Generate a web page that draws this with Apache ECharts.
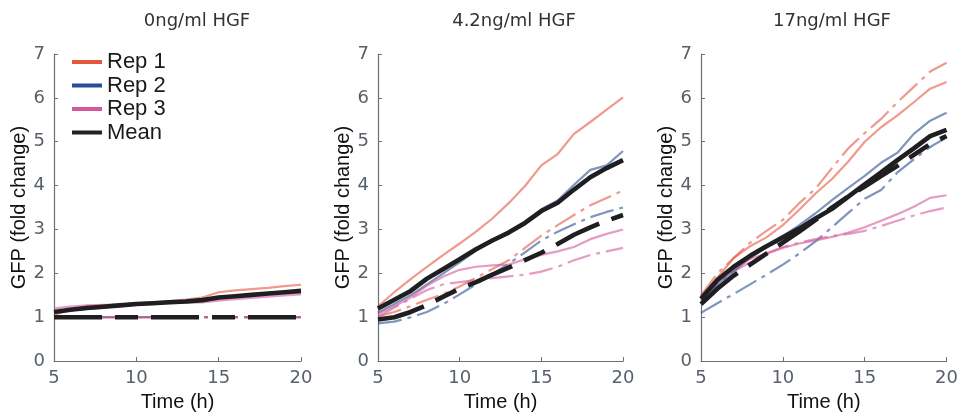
<!DOCTYPE html>
<html>
<head>
<meta charset="utf-8">
<script src="https://cdn.jsdelivr.net/npm/echarts@6/dist/echarts.min.js"></script>
<style>
  html, body { margin: 0; padding: 0; background: #ffffff; }
  #chart { width: 961px; height: 417px; }
</style>
</head>
<body>
<div id="chart"></div>
<script>
// Sampling times (h)
const hours = [5, 6, 7, 8, 9, 10, 11, 12, 13, 14, 15, 16, 17, 18, 19, 20];

const panelTitles = ['0ng/ml HGF', '4.2ng/ml HGF', '17ng/ml HGF'];
const lineNames = ['Rep 1', 'Rep 2', 'Rep 3', 'Mean'];

// 0 ng/ml HGF — solid traces
const rep1_0 = [1.05, 1.17, 1.25, 1.27, 1.29, 1.31, 1.34, 1.37, 1.40, 1.45, 1.57, 1.61, 1.64, 1.67, 1.71, 1.74];
const rep2_0 = [1.12, 1.16, 1.19, 1.22, 1.25, 1.28, 1.31, 1.33, 1.35, 1.37, 1.43, 1.46, 1.49, 1.52, 1.55, 1.57];
const rep3_0 = [1.20, 1.24, 1.27, 1.28, 1.29, 1.30, 1.31, 1.32, 1.33, 1.34, 1.38, 1.41, 1.44, 1.47, 1.50, 1.52];
const mean_0 = [1.12, 1.17, 1.21, 1.24, 1.27, 1.30, 1.32, 1.34, 1.36, 1.39, 1.45, 1.48, 1.51, 1.54, 1.57, 1.60];
// 0 ng/ml HGF — dashed traces
const rep1_0d = [1, 1, 1, 1, 1, 1, 1, 1, 1, 1, 1, 1, 1, 1, 1, 1];
const rep2_0d = [1, 1, 1, 1, 1, 1, 1, 1, 1, 1, 1, 1, 1, 1, 1, 1];
const rep3_0d = [1, 1, 1, 1, 1, 1, 1, 1, 1, 1, 1, 1, 1, 1, 1, 1];
const mean_0d = [1, 1, 1, 1, 1, 1, 1, 1, 1, 1, 1, 1, 1, 1, 1, 1];

// 4.2 ng/ml HGF — solid traces
const rep1_4 = [1.25, 1.57, 1.87, 2.15, 2.42, 2.68, 2.95, 3.25, 3.60, 3.99, 4.46, 4.72, 5.18, 5.45, 5.73, 6.01];
const rep2_4 = [1.10, 1.30, 1.50, 1.75, 2.00, 2.25, 2.52, 2.75, 2.95, 3.18, 3.46, 3.66, 4.02, 4.36, 4.46, 4.79];
const rep3_4 = [1.07, 1.25, 1.45, 1.72, 1.93, 2.08, 2.15, 2.18, 2.20, 2.32, 2.42, 2.50, 2.60, 2.78, 2.90, 3.00];
const mean_4 = [1.20, 1.40, 1.60, 1.88, 2.10, 2.32, 2.55, 2.75, 2.93, 3.15, 3.42, 3.61, 3.91, 4.19, 4.40, 4.58];
// 4.2 ng/ml HGF — dashed traces
const rep1_4d = [1.02, 1.12, 1.25, 1.40, 1.53, 1.70, 1.90, 2.10, 2.30, 2.58, 2.86, 3.10, 3.33, 3.55, 3.72, 3.89];
const rep2_4d = [0.86, 0.90, 1.00, 1.12, 1.30, 1.52, 1.75, 1.98, 2.22, 2.48, 2.75, 2.95, 3.12, 3.28, 3.40, 3.50];
const rep3_4d = [1.00, 1.22, 1.42, 1.62, 1.75, 1.80, 1.85, 1.89, 1.93, 1.97, 2.04, 2.15, 2.30, 2.42, 2.50, 2.58];
const mean_4d = [0.95, 1.00, 1.12, 1.28, 1.47, 1.65, 1.80, 1.97, 2.13, 2.30, 2.47, 2.67, 2.88, 3.05, 3.20, 3.33];

// 17 ng/ml HGF — solid traces
const rep1_17 = [1.47, 1.90, 2.35, 2.62, 2.82, 3.10, 3.45, 3.82, 4.15, 4.55, 5.00, 5.33, 5.60, 5.90, 6.21, 6.36];
const rep2_17 = [1.40, 1.75, 2.05, 2.35, 2.60, 2.85, 3.10, 3.37, 3.67, 3.95, 4.22, 4.52, 4.75, 5.18, 5.48, 5.66];
const rep3_17 = [1.45, 1.80, 2.10, 2.33, 2.45, 2.58, 2.68, 2.75, 2.83, 2.93, 3.05, 3.20, 3.35, 3.52, 3.72, 3.78];
const mean_17 = [1.42, 1.85, 2.15, 2.40, 2.62, 2.82, 3.02, 3.25, 3.47, 3.75, 4.03, 4.30, 4.58, 4.85, 5.13, 5.27];
// 17 ng/ml HGF — dashed traces
const rep1_17d = [1.50, 2.00, 2.35, 2.70, 2.97, 3.22, 3.60, 3.93, 4.40, 4.85, 5.20, 5.52, 5.90, 6.25, 6.60, 6.80];
const rep2_17d = [1.10, 1.32, 1.53, 1.75, 1.97, 2.20, 2.45, 2.73, 3.05, 3.38, 3.70, 3.90, 4.30, 4.60, 4.88, 5.10];
const rep3_17d = [1.40, 1.75, 2.05, 2.25, 2.45, 2.60, 2.70, 2.78, 2.85, 2.90, 2.97, 3.08, 3.20, 3.32, 3.42, 3.50];
const mean_17d = [1.30, 1.65, 1.95, 2.20, 2.45, 2.70, 2.95, 3.22, 3.50, 3.75, 3.98, 4.22, 4.45, 4.70, 4.95, 5.13];

const solidSets = [
  [rep1_0, rep2_0, rep3_0, mean_0],
  [rep1_4, rep2_4, rep3_4, mean_4],
  [rep1_17, rep2_17, rep3_17, mean_17]
];
const dashedSets = [
  [rep1_0d, rep2_0d, rep3_0d, mean_0d],
  [rep1_4d, rep2_4d, rep3_4d, mean_4d],
  [rep1_17d, rep2_17d, rep3_17d, mean_17d]
];

// Styling
const keyColors = ['#e4573f', '#2b4c96', '#d3589a', '#222226'];
const traceColors = ['rgba(228,87,63,0.6)', 'rgba(43,76,150,0.6)', 'rgba(211,88,154,0.6)', '#1f1f22'];
const traceWidths = [2.2, 2.2, 2.2, 4.6];
const repDash = [24, 6, 4, 6];
const meanDash = [48, 13, 23, 13];

const gridBoxes = [
  { left: 54, top: 54, width: 247, height: 312 },
  { left: 378, top: 54, width: 245, height: 312 },
  { left: 701, top: 54, width: 246, height: 312 }
];
const titleCenters = [197, 514, 832];

const tickFont = 'DejaVu Sans';
const textFont = '"Liberation Sans", Arial, Helvetica, sans-serif';
const axisGrey = '#6c7178';
const tickGrey = '#58606a';

const toPairs = arr => arr.map((v, i) => [hours[i], v]);

const grids = [], xAxes = [], yAxes = [], series = [], graphics = [];

gridBoxes.forEach((box, p) => {
  grids.push(Object.assign({ containLabel: false }, box));

  xAxes.push({
    type: 'value', gridIndex: p, min: 5, max: 20, interval: 5,
    name: 'Time (h)', nameLocation: 'middle', nameGap: 27,
    nameTextStyle: { color: '#111', fontSize: 20, fontFamily: textFont },
    axisLine: { show: true, lineStyle: { color: axisGrey, width: 1.2 } },
    axisTick: { show: true, inside: true, length: 4, lineStyle: { color: axisGrey } },
    axisLabel: { color: tickGrey, fontSize: 18, fontFamily: tickFont, margin: 8 },
    splitLine: { show: false }
  });

  yAxes.push({
    type: 'value', gridIndex: p, min: 0, max: 7, interval: 1,
    name: 'GFP (fold change)', nameLocation: 'middle', nameGap: 22,
    nameTextStyle: { color: '#111', fontSize: 20, fontFamily: textFont },
    axisLine: { show: true, lineStyle: { color: axisGrey, width: 1.2 } },
    axisTick: { show: true, inside: true, length: 4, lineStyle: { color: axisGrey } },
    axisLabel: { color: tickGrey, fontSize: 18, fontFamily: tickFont, margin: 9 },
    splitLine: { show: false }
  });

  graphics.push({
    type: 'text', x: titleCenters[p], y: 21,
    style: {
      text: panelTitles[p], fill: '#333', fontSize: 18, fontFamily: tickFont,
      align: 'center', verticalAlign: 'middle'
    }
  });

  const addLine = (k, arr, dashed) => {
    series.push({
      type: 'line',
      name: dashed ? lineNames[k] + ' dashed' : lineNames[k],
      xAxisIndex: p, yAxisIndex: p,
      data: toPairs(arr),
      showSymbol: false, symbol: 'none', silent: true, animation: false,
      itemStyle: { color: keyColors[k] },
      lineStyle: {
        color: traceColors[k], width: traceWidths[k],
        type: dashed ? (k === 3 ? meanDash : repDash) : 'solid'
      },
      z: k === 3 ? 5 : 2
    });
  };

  // replicate traces first, mean traces on top
  for (let k = 0; k < 3; k++) addLine(k, dashedSets[p][k], true);
  for (let k = 0; k < 3; k++) addLine(k, solidSets[p][k], false);
  addLine(3, dashedSets[p][3], true);
  addLine(3, solidSets[p][3], false);
});

const chart = echarts.init(document.getElementById('chart'), null, { renderer: 'canvas' });
chart.setOption({
  backgroundColor: '#ffffff',
  animation: false,
  grid: grids,
  xAxis: xAxes,
  yAxis: yAxes,
  graphic: graphics,
  legend: {
    orient: 'vertical', left: 67, top: 46,
    icon: 'rect', itemWidth: 30, itemHeight: 4, itemGap: 1.5,
    selectedMode: false,
    textStyle: { color: '#1a1a1a', fontSize: 22, fontFamily: textFont },
    data: lineNames.map((n, k) => ({ name: n, itemStyle: { color: keyColors[k], opacity: 1 } }))
  },
  series: series
});
</script>
</body>
</html>
